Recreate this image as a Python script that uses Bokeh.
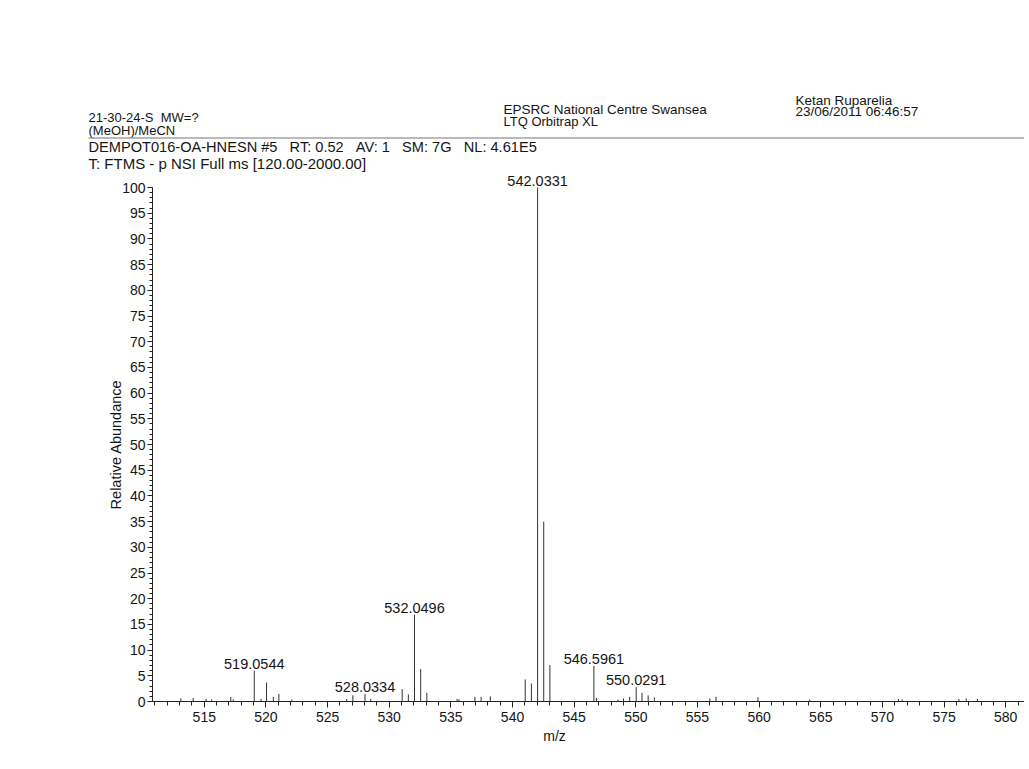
from bokeh.plotting import figure
from bokeh.models import (Range1d, SingleIntervalTicker, Label, BoxAnnotation,
                          ColumnDataSource)
from bokeh.embed import file_html
from bokeh.resources import INLINE
from bokeh.core.properties import value

# ---------------- data ----------------
peak_mz = [513.1, 514.1, 515.15, 515.6, 517.15, 517.35, 519.0544, 519.6, 520.05,
           520.6, 521.05, 522.1, 526.55, 527.05, 528.0334, 528.5, 531.05, 531.55,
           532.0496, 532.55, 533.05, 535.5, 535.65, 536.95, 537.45, 538.2, 541.03,
           541.53, 542.0331, 542.53, 543.03, 546.5961, 546.8, 548.55, 549.0, 549.5,
           550.0291, 550.5, 551.0, 551.5, 556.0, 556.5, 559.9, 564.1, 571.3, 571.6,
           576.2, 576.8, 577.7]
peak_int = [0.6, 0.7, 0.5, 0.4, 0.9, 0.4, 6.0, 0.5, 3.7,
            0.9, 1.5, 0.4, 0.5, 1.2, 1.5, 0.5, 2.4, 1.4,
            16.9, 6.3, 1.7, 0.5, 0.4, 0.9, 0.9, 1.0, 4.3,
            3.5, 100.0, 35.0, 7.1, 6.9, 0.7, 0.4, 0.6, 0.9,
            2.8, 1.7, 1.2, 0.8, 0.6, 0.9, 0.8, 0.4, 0.5, 0.4,
            0.5, 0.6, 0.5]
label_mz = [519.0544, 528.0334, 532.0496, 542.0331, 546.5961, 550.0291]
label_text = ["519.0544", "528.0334", "532.0496", "542.0331", "546.5961", "550.0291"]

GAP2 = "\u00a0\u00a0"
GAP3 = "\u00a0\u00a0\u00a0"
header_left = ["21-30-24-S" + GAP2 + "MW=?", "(MeOH)/MeCN",
               GAP3.join(["DEMPOT016-OA-HNESN #5", "RT: 0.52", "AV: 1", "SM: 7G",
                          "NL: 4.61E5"]),
               "T: FTMS - p NSI Full ms [120.00-2000.00]"]
header_mid = ["EPSRC National Centre Swansea", "LTQ Orbitrap XL"]
header_right = ["Ketan Ruparelia", "23/06/2011 06:46:57"]

x_start = 510.8          # m/z where the intensity axis stands
y_top = 100              # top of the intensity axis

# ---------------- layout ----------------
W, H = 1024, 764
AX_LEFT, AX_BOTTOM = 152, 701     # pixel position of the axes corner
PX_X, PX_Y = 12.33, 5.14          # pixels per m/z unit and per % unit

x_range = Range1d(x_start - AX_LEFT / PX_X, x_start + (W - AX_LEFT) / PX_X)
y_range = Range1d(-(H - AX_BOTTOM) / PX_Y, AX_BOTTOM / PX_Y)

FONT = "Liberation Sans"
INK = "#151515"
AXC = "#222222"

label_int = [peak_int[peak_mz.index(m)] for m in label_mz]

p = figure(width=W, height=H, output_backend="svg", toolbar_location=None,
           x_range=x_range, y_range=y_range,
           min_border_left=0, min_border_right=0, min_border_top=0,
           min_border_bottom=0)
p.outline_line_color = None
p.background_fill_color = "white"
p.border_fill_color = "white"
p.xgrid.visible = False
p.ygrid.visible = False

src = ColumnDataSource(dict(mz=peak_mz, ab=peak_int, base=[0] * len(peak_mz)))
p.segment(x0="mz", y0="base", x1="mz", y1="ab", source=src,
          line_color="#333333", line_width=1)

lsrc = ColumnDataSource(dict(mz=label_mz, ab=label_int, t=label_text))
p.text(x="mz", y="ab", text="t", source=lsrc, text_font=value(FONT),
       text_font_size="14.5px", text_color=INK, text_align="center",
       text_baseline="bottom", y_offset=-2)

# axes drawn at fixed positions inside the canvas
xa = p.xaxis[0]
xa.fixed_location = 0
xa.bounds = (x_start, x_range.end)
xa.ticker = SingleIntervalTicker(interval=5, num_minor_ticks=5)
xa.major_tick_out = 6
xa.major_tick_in = 0
xa.minor_tick_out = 4
xa.minor_tick_in = 0
xa.major_label_standoff = 4
xa.major_label_text_font = FONT
xa.major_label_text_font_size = "14px"
xa.major_label_text_color = INK
xa.axis_line_color = AXC
xa.major_tick_line_color = AXC
xa.minor_tick_line_color = AXC

ya = p.yaxis[0]
ya.fixed_location = x_start
ya.bounds = (0, y_top)
ya.ticker = SingleIntervalTicker(interval=5, num_minor_ticks=5)
ya.major_tick_out = 5
ya.major_tick_in = 0
ya.minor_tick_out = 3
ya.minor_tick_in = 0
ya.major_label_standoff = 2
ya.major_label_text_font = FONT
ya.major_label_text_font_size = "14px"
ya.major_label_text_color = INK
ya.axis_label = "Relative Abundance"
ya.axis_label_text_font = FONT
ya.axis_label_text_font_size = "14.5px"
ya.axis_label_text_font_style = "normal"
ya.axis_label_text_color = INK
ya.axis_label_standoff = -5
ya.axis_line_color = AXC
ya.major_tick_line_color = AXC
ya.minor_tick_line_color = AXC


# header texts, placed in pixels (screen units are measured from the frame's bottom-left)
def lab(txt, x, y, size, align="left"):
    p.add_layout(Label(x=x, y=H - y, x_units="screen", y_units="screen", text=txt,
                       text_font=FONT, text_font_size=size, text_color=INK,
                       text_align=align, text_baseline="middle"))


lab(header_left[0], 88, 117, "13px")
lab(header_left[1], 88, 129.5, "13px")
lab(header_left[2], 88, 146.5, "14.6px")
lab(header_left[3], 88, 162.5, "15px")
lab(header_mid[0], 503, 109, "13.5px")
lab(header_mid[1], 503, 120.5, "13px")
lab(header_right[0], 795, 99.5, "13.5px")
lab(header_right[1], 795, 111, "13.5px")
lab("m/z", 554, 735, "14px", align="center")

p.add_layout(BoxAnnotation(left=88, right=W, bottom=H - 138, top=H - 137,
                           left_units="screen", right_units="screen",
                           bottom_units="screen", top_units="screen",
                           fill_color="#777777", fill_alpha=1.0, line_color=None))

open("out.html", "w").write(file_html(p, INLINE))
